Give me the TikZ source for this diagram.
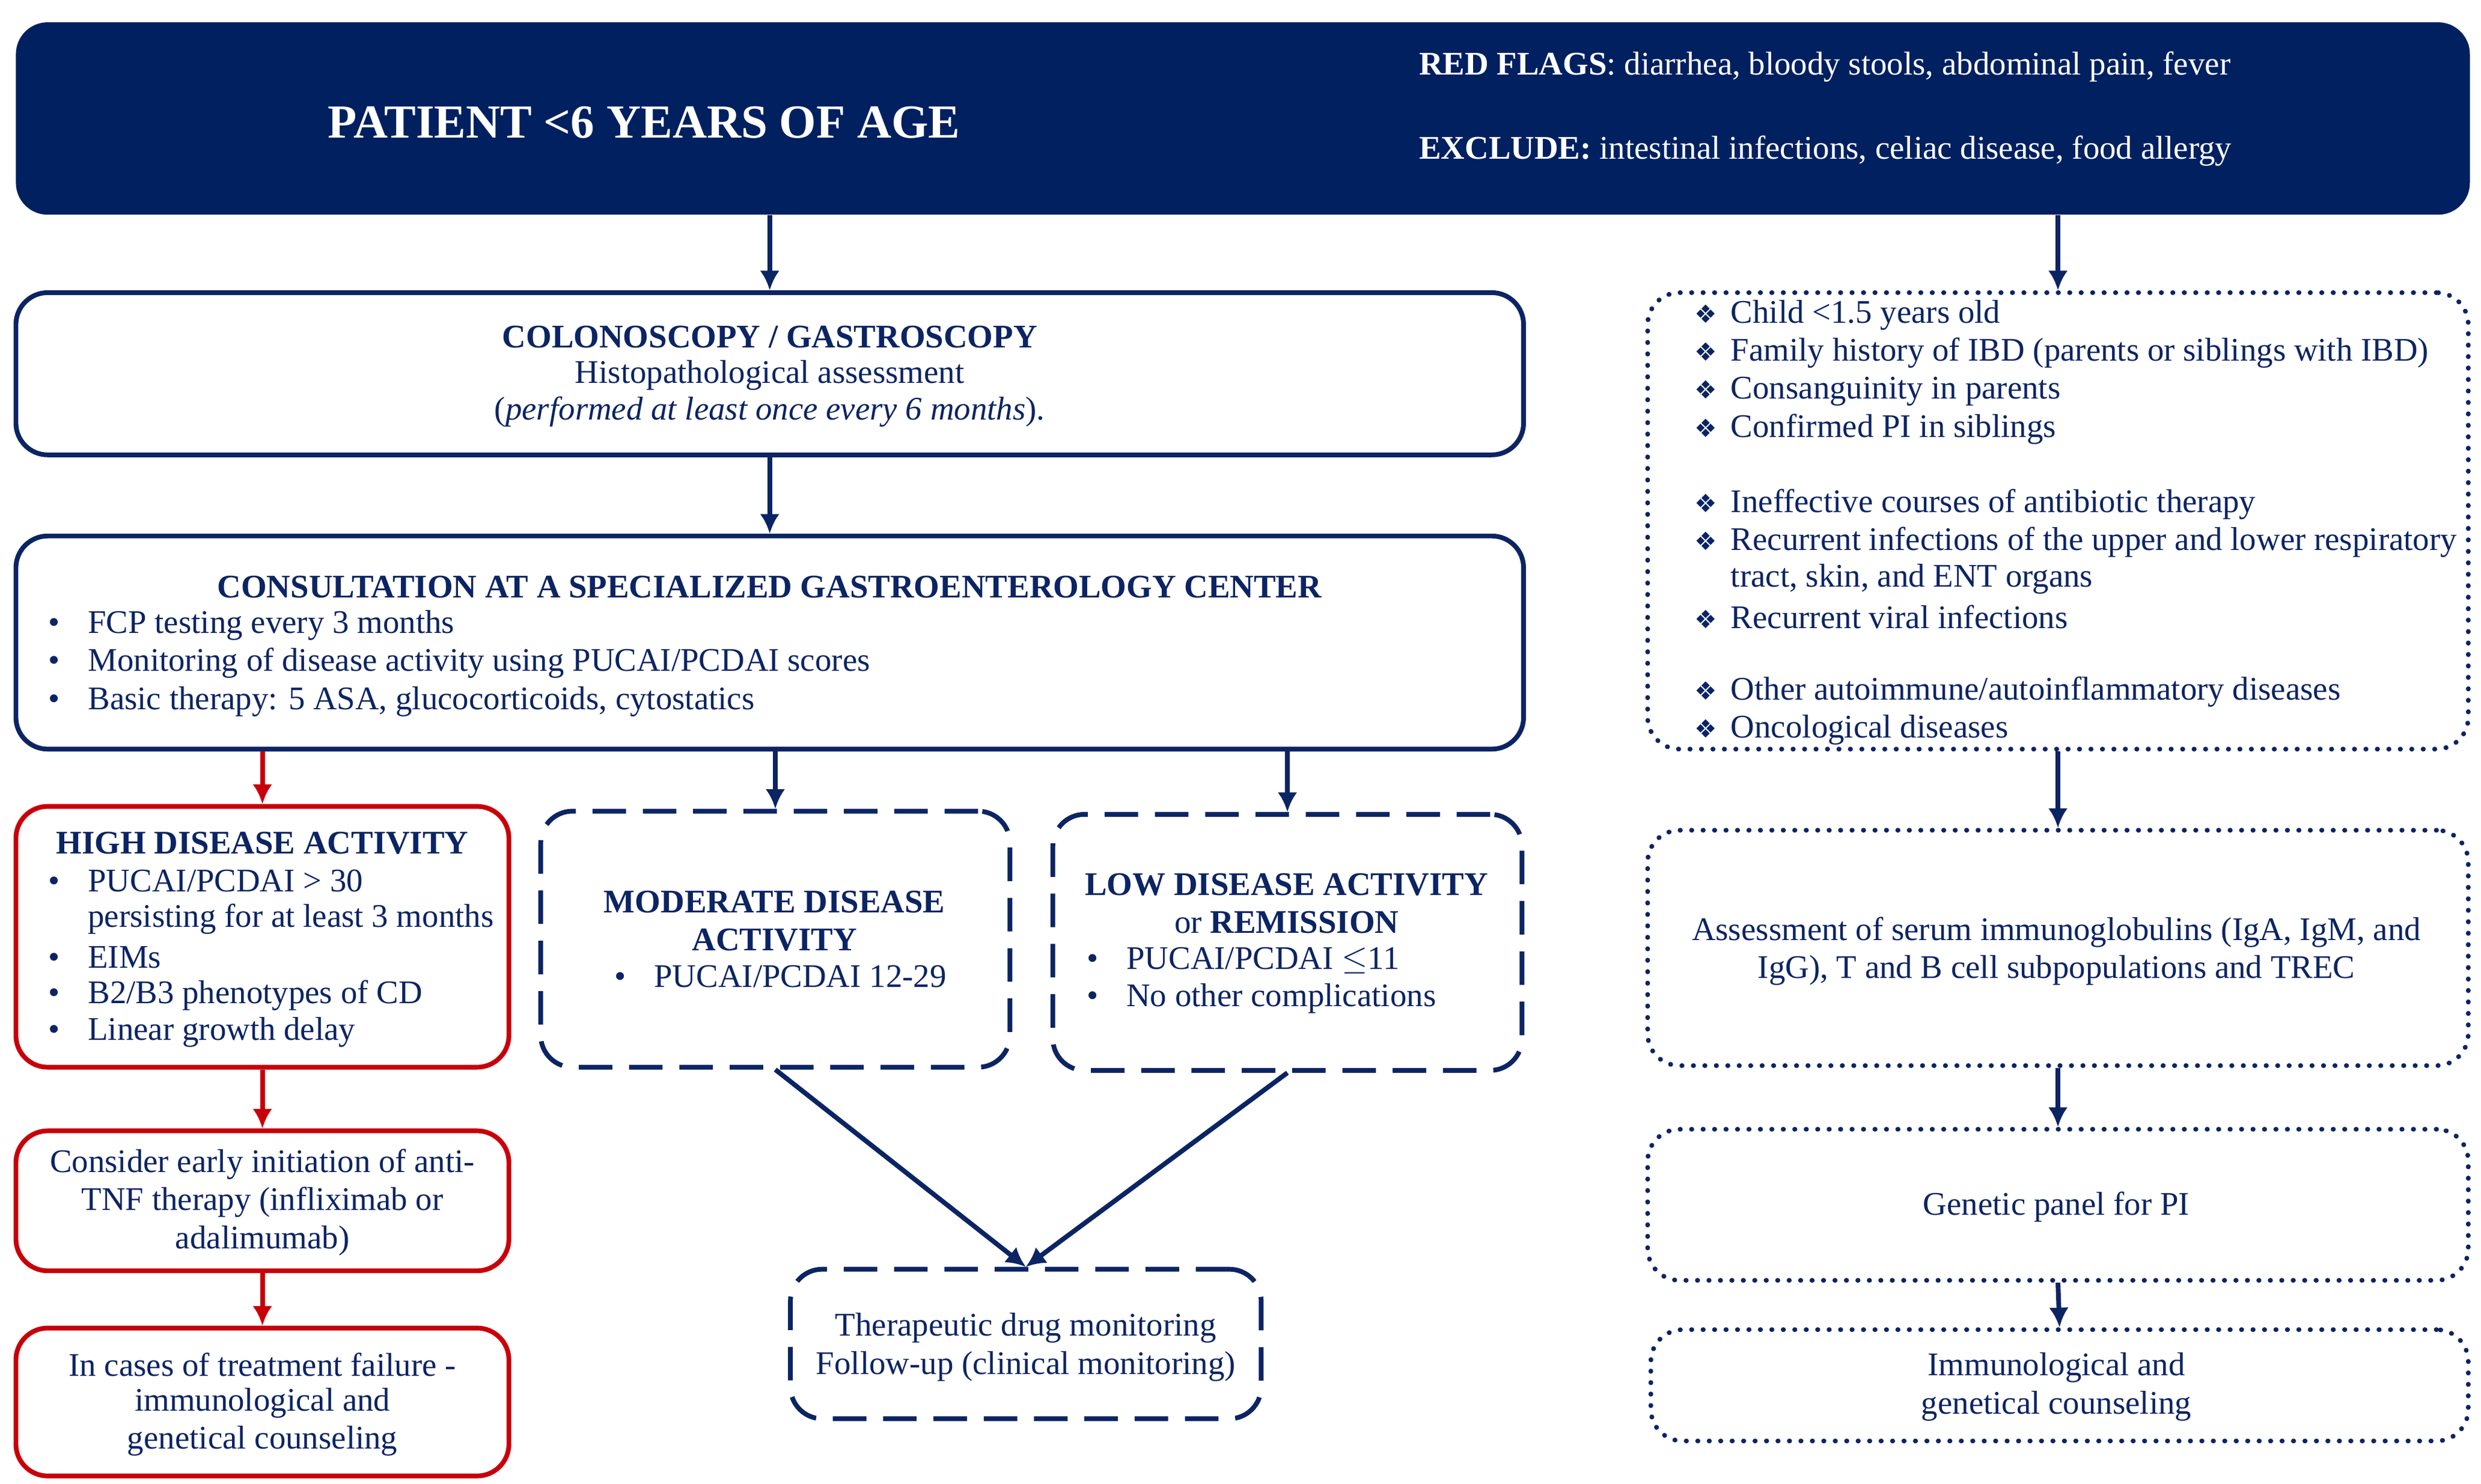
\documentclass[tikz,border=0pt]{standalone}
\usepackage{fontspec}
\setmainfont{Liberation Serif}
\newfontfamily\dej{DejaVu Sans}
\usetikzlibrary{fit,arrows.meta}
\definecolor{navy}{HTML}{0B2463}
\definecolor{hdr}{HTML}{002060}
\definecolor{rd}{HTML}{C8000A}
\newcounter{tc}
\newcommand{\mT}[3]{\stepcounter{tc}\node[txt] (t\arabic{tc}) at (#1,#2) {#3};}
\newcommand{\mL}[3]{\stepcounter{tc}\node[txt,anchor=west] (t\arabic{tc}) at (#1,#2) {#3};}
\newcommand{\mB}[3]{\stepcounter{tc}\node[txt,anchor=west] (t\arabic{tc}) at (#1,#2) {\makebox[0.5cm][l]{\textbullet}#3};}
\newcommand{\mD}[3]{\stepcounter{tc}\node[txt,anchor=west] (t\arabic{tc}) at (#1,#2) {\makebox[0.46cm][l]{\dej\small\char"2756}#3};}
\newcommand{\mbx}[6]{\node[fit={(#2,#3)(#4,#5)},inner sep=0pt,#6] (#1) {};}
\begin{document}
\begin{tikzpicture}[x=0.02cm,y=-0.02cm,
  txt/.style={inner sep=0pt,font=\fontsize{11.8}{13.6}\selectfont,text=navy},
  box/.style={draw=navy,line width=1.7pt,rounded corners=0.4cm},
  rbox/.style={draw=rd,line width=1.7pt,rounded corners=0.4cm},
  dbox/.style={box,dash pattern=on 12pt off 6pt},
  obox/.style={box,dash pattern=on 0.1pt off 4pt,line cap=round},
  arr/.style={draw=navy,line width=1.7pt,-{Latex[length=7pt,width=7pt]}},
  rarr/.style={arr,draw=rd,-{Latex[length=7pt,width=7pt]}}]
\useasboundingbox (0,0) rectangle (1560,933);
% header
\mbx{hd}{10}{14}{1553}{135}{fill=hdr,rounded corners=0.4cm}
\node[txt,text=white,font=\fontsize{17}{20}\selectfont\bfseries] (title) at (405,77) {PATIENT <6 YEARS OF AGE};
\mL{892}{42}{\color{white}\textbf{RED FLAGS}: diarrhea, bloody stools, abdominal pain, fever}
\mL{892}{95}{\color{white}\textbf{EXCLUDE:} intestinal infections, celiac disease, food allergy}
% boxes
\mbx{colo}{10}{184}{958}{286}{box}
\mbx{cons}{10}{337}{958}{471}{box}
\mbx{high}{10}{507}{320}{671}{rbox}
\mbx{mod}{340}{510}{635}{671}{dbox}
\mbx{low}{662}{512}{957}{673}{dbox}
\mbx{tnf}{10}{711}{320}{799}{rbox}
\mbx{fail}{10}{835}{320}{928}{rbox}
\mbx{tdm}{497}{798}{793}{892}{dbox}
\mbx{risk}{1036}{184}{1552}{471}{obox}
\mbx{imm}{1036}{522}{1552}{670}{obox}
\mbx{gen}{1036}{710}{1552}{805}{obox}
\mbx{coun}{1038}{836}{1552}{906}{obox}
% texts
\mT{484}{212}{\textbf{COLONOSCOPY / GASTROSCOPY}}
\mT{484}{236}{Histopathological assessment}
\mT{484}{259}{(\textit{performed at least once every 6 months}).}
\mT{484}{369}{\textbf{CONSULTATION AT A SPECIALIZED GASTROENTEROLOGY CENTER}}
\mB{30}{393}{FCP testing every 3 months}
\mB{30}{417}{Monitoring of disease activity using PUCAI/PCDAI scores}
\mB{30}{441}{Basic therapy: 5 ASA, glucocorticoids, cytostatics}
\mT{165}{530}{\textbf{HIGH DISEASE ACTIVITY}}
\mB{30}{554}{PUCAI/PCDAI > 30}
\mL{55}{578}{persisting for at least 3 months}
\mB{30}{602}{EIMs}
\mB{30}{626}{B2/B3 phenotypes of CD}
\mB{30}{649}{Linear growth delay}
\mT{487}{567}{\textbf{MODERATE DISEASE}}
\mT{487}{591}{\textbf{ACTIVITY}}
\mB{386}{614}{PUCAI/PCDAI 12-29}
\mT{809}{556}{\textbf{LOW DISEASE ACTIVITY}}
\mT{809}{580}{or \textbf{REMISSION}}
\mB{683}{604}{PUCAI/PCDAI $\leq$11}
\mB{683}{628}{No other complications}
\mT{165}{732}{Consider early initiation of anti-}
\mT{165}{756}{TNF therapy (infliximab or}
\mT{165}{780}{adalimumab)}
\mT{165}{858}{In cases of treatment failure -}
\mT{165}{882}{immunological and}
\mT{165}{906}{genetical counseling}
\mT{645}{835}{Therapeutic drug monitoring}
\mT{645}{859}{Follow-up (clinical monitoring)}
\mD{1065}{198}{Child <1.5 years old}
\mD{1065}{222}{Family history of IBD (parents or siblings with IBD)}
\mD{1065}{246}{Consanguinity in parents}
\mD{1065}{270}{Confirmed PI in siblings}
\mD{1065}{317}{Ineffective courses of antibiotic therapy}
\mD{1065}{341}{Recurrent infections of the upper and lower respiratory}
\mL{1088}{364}{tract, skin, and ENT organs}
\mD{1065}{388}{Recurrent viral infections}
\mD{1065}{435}{Other autoimmune/autoinflammatory diseases}
\mD{1065}{459}{Oncological diseases}
\mT{1293}{586}{Assessment of serum immunoglobulins (IgA, IgM, and}
\mT{1293}{610}{IgG), T and B cell subpopulations and TREC}
\mT{1293}{759}{Genetic panel for PI}
\mT{1293}{860}{Immunological and}
\mT{1293}{884}{genetical counseling}
% arrows
\draw[arr] (hd.south -| colo.north) -- (colo.north);
\draw[arr] (hd.south -| risk.north) -- (risk.north);
\draw[arr] (colo.south) -- (cons.north);
\draw[rarr] (cons.south -| high.north) -- (high.north);
\draw[arr] (cons.south -| mod.north) -- (mod.north);
\draw[arr] (cons.south -| low.north) -- (low.north);
\draw[rarr] (high.south) -- (tnf.north);
\draw[rarr] (tnf.south) -- (fail.north);
\draw[arr] (mod.south) -- (tdm.north);
\draw[arr] (low.south) -- (tdm.north);
\draw[arr] (risk.south) -- (imm.north);
\draw[arr] (imm.south) -- (gen.north);
\draw[arr] (gen.south) -- (coun.north);
\end{tikzpicture}
\end{document}
